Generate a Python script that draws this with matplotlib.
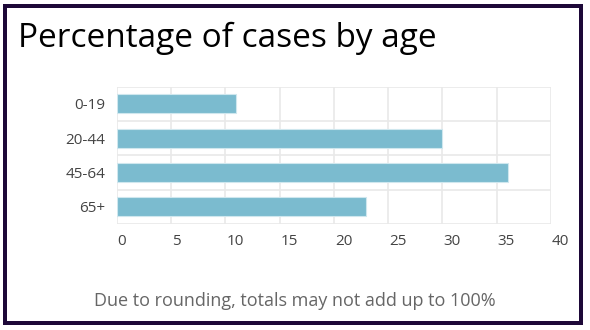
import matplotlib.pyplot as plt
from matplotlib.patches import Rectangle
import matplotlib.transforms as mtransforms

# share of cases per age band (%)
age_groups = ['0-19', '20-44', '45-64', '65+']
percent = [11, 30, 36, 23]
x_ticks = [0, 5, 10, 15, 20, 25, 30, 35, 40]

plt.rcParams['font.family'] = ['Open Sans', 'DejaVu Sans']

W, H = 590, 330
fig = plt.figure(figsize=(W / 100, H / 100), dpi=100)

# dark frame round the whole card
fig.patches.append(Rectangle((5 / W, 1 - 323 / H), 576 / W, 317.3 / H,
                             transform=fig.transFigure, fill=False,
                             edgecolor='#1d0838', linewidth=4 * 0.72))

ax = fig.add_axes([116.7 / W, 1 - 224 / H, (551 - 116.7) / W, (224 - 86.7) / H])

ypos = list(range(len(age_groups)))
ax.barh(ypos, percent, height=0.55, color='#7bbbcf',
        edgecolor='#cfe7ee', linewidth=0.8, zorder=3)

ax.set_xlim(0, 40)
ax.set_ylim(len(age_groups) - 0.5, -0.5)

ax.set_yticks(ypos)
ax.set_yticklabels(age_groups)
ax.set_yticks([i - 0.5 for i in range(len(age_groups) + 1)], minor=True)
ax.set_xticks(x_ticks)
ax.set_xticklabels([str(t) for t in x_ticks], ha='left')

ax.grid(axis='x', which='major', color='#e9e9e9', linewidth=1.2, zorder=0)
ax.grid(axis='y', which='minor', color='#e9e9e9', linewidth=1.2, zorder=0)
ax.tick_params(which='both', length=0)
ax.tick_params(axis='y', labelsize=11, colors='#444444', pad=8)
ax.tick_params(axis='x', labelsize=11, colors='#444444', pad=7)
for s in ax.spines.values():
    s.set_visible(False)

offset = mtransforms.ScaledTranslation(1 / 100, 0, fig.dpi_scale_trans)
for lbl in ax.get_xticklabels():
    lbl.set_transform(lbl.get_transform() + offset)

fig.text(18 / W, 1 - 47 / H, 'Percentage of cases by age', fontsize=24,
         color='black', ha='left', va='baseline')
fig.text(295 / W, 1 - 306 / H, 'Due to rounding, totals may not add up to 100%',
         fontsize=13, color='#666666', ha='center', va='baseline')

fig.savefig('out.png', dpi=100, facecolor='white')
